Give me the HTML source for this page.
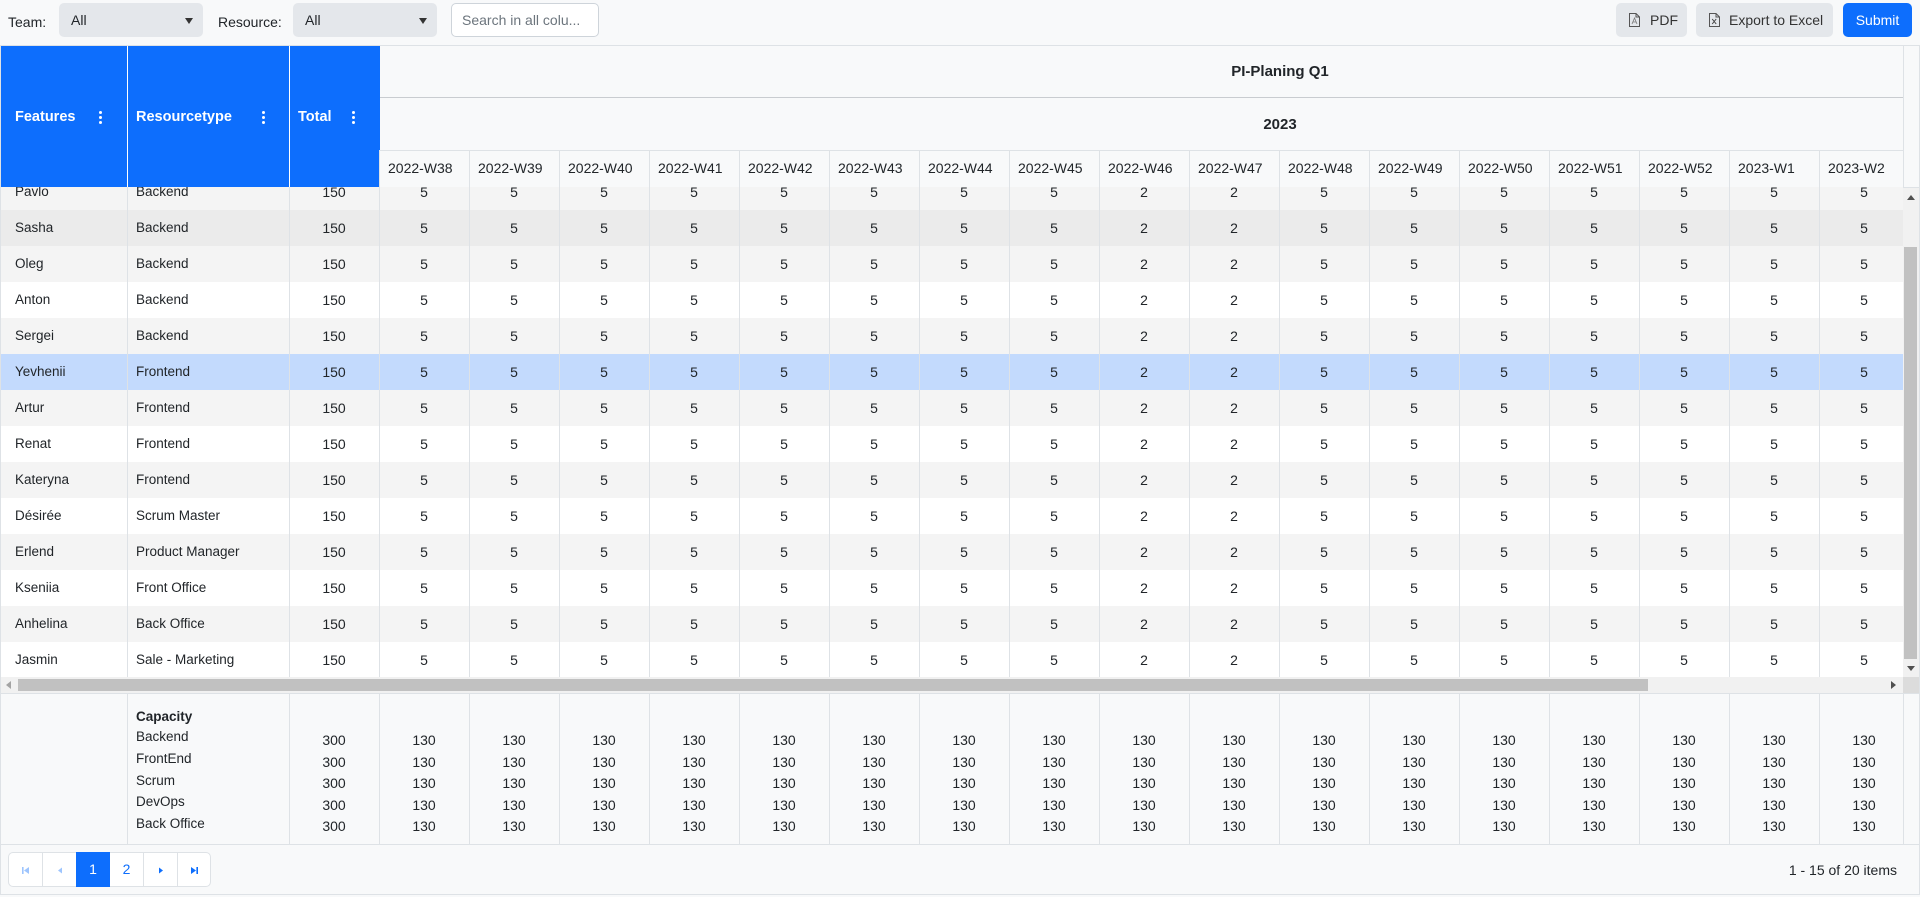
<!DOCTYPE html>
<html><head><meta charset="utf-8">
<style>
*{box-sizing:border-box}
body{margin:0;width:1920px;height:897px;overflow:hidden;background:#f8f9fa;font-family:"Liberation Sans",Arial,sans-serif;color:#212529;position:relative;font-size:14px}
.a{position:absolute}
.hl{position:absolute;height:1px;background:#dee2e6}
.vl{position:absolute;width:1px;background:#dee2e6}
.sel{position:absolute;top:3px;height:34px;width:144px;background:#e4e7eb;border-radius:5px;line-height:34px;padding-left:12px;font-size:14px}
.sel .tri{position:absolute;left:126px;top:15px;width:0;height:0;border-left:4px solid transparent;border-right:4px solid transparent;border-top:6px solid #333}
.btn{position:absolute;top:3px;height:34px;border-radius:5px;background:#e4e7eb;line-height:34px;font-size:14px;color:#333}
.kb{position:absolute;width:3px;top:111px}
.kb i{display:block;width:3px;height:3px;border-radius:50%;background:#fff;margin-bottom:2px}
.ht{position:absolute;top:107px;line-height:20px;color:#fff;font-weight:bold;font-size:14.5px}
.body{position:absolute;left:0;top:187px;width:1903px;height:490px;overflow:hidden}
.r{position:absolute;left:0;height:36px;width:1909px;display:flex;line-height:36px;font-size:14px;white-space:nowrap}
.c1{width:127px;padding-left:15px;flex:none;font-size:13.5px}
.c2{width:162px;padding-left:9px;flex:none;font-size:13.5px}
.c3,.w{width:90px;text-align:center;flex:none}
.wk{position:absolute;left:0;top:150px;height:37px;width:1903px;overflow:hidden;display:flex;padding-left:379px;line-height:37px;font-size:14px;white-space:nowrap}
.wk div{width:90px;flex:none;padding-left:9px}
.fr{position:absolute;left:0;width:1903px;height:20px;overflow:hidden;display:flex;line-height:20px;font-size:14px;white-space:nowrap}
.fr .sp{width:289px;flex:none}
.fl{position:absolute;left:136px;line-height:20px;font-size:13.5px}
.pg{position:absolute;top:852px;height:35px;border-top:1px solid #dee2e6;border-bottom:1px solid #dee2e6;background:#fff;text-align:center;line-height:33px;font-size:14px;color:#0d6efd}
</style></head><body>

<!-- toolbar -->
<div class="a" style="left:8px;top:12px;line-height:20px">Team:</div>
<div class="sel" style="left:59px">All<span class="tri"></span></div>
<div class="a" style="left:218px;top:12px;line-height:20px">Resource:</div>
<div class="sel" style="left:293px">All<span class="tri"></span></div>
<div class="a" style="left:451px;top:3px;width:148px;height:34px;background:#fff;border:1px solid #ced4da;border-radius:5px;line-height:32px;padding-left:10px;color:#6c757d;font-size:14px;white-space:nowrap">Search in all colu...</div>

<div class="btn" style="left:1616px;width:71px">
<svg class="a" style="left:13px;top:10px" width="11" height="14" viewBox="0 0 11 14"><path d="M0.5 0.5H7L10.5 4V13.5H0.5Z" fill="none" stroke="#555"/><path d="M7 0.5V4H10.5" fill="none" stroke="#555"/><path d="M3 11L5.5 5L8 11M4 9H7" fill="none" stroke="#777" stroke-width="0.8"/></svg>
<span class="a" style="left:34px">PDF</span></div>
<div class="btn" style="left:1696px;width:137px">
<svg class="a" style="left:13px;top:10px" width="11" height="14" viewBox="0 0 11 14"><path d="M0.5 0.5H7L10.5 4V13.5H0.5Z" fill="none" stroke="#555"/><path d="M7 0.5V4H10.5" fill="none" stroke="#555"/><path d="M3.2 6L7.2 11M7.2 6L3.2 11" stroke="#444" stroke-width="1"/></svg>
<span class="a" style="left:33px;white-space:nowrap">Export to Excel</span></div>
<div class="btn" style="left:1843px;width:69px;background:#0d6efd;color:#fff;text-align:center">Submit</div>

<div class="hl" style="left:0;top:45px;width:1920px"></div>

<!-- header -->
<div class="a" style="left:0;top:46px;width:380px;height:141px;background:#0d6efd"></div>
<div class="a" style="left:127px;top:46px;width:1px;height:141px;background:#fff"></div>
<div class="a" style="left:289px;top:46px;width:1px;height:141px;background:#fff"></div>
<div class="ht" style="left:15px">Features</div>
<div class="kb" style="left:99px"><i></i><i></i><i></i></div>
<div class="ht" style="left:136px">Resourcetype</div>
<div class="kb" style="left:262px"><i></i><i></i><i></i></div>
<div class="ht" style="left:298px">Total</div>
<div class="kb" style="left:352px"><i></i><i></i><i></i></div>

<div class="a" style="left:1180px;top:62px;width:200px;text-align:center;font-weight:bold;font-size:15px;line-height:20px">PI-Planing Q1</div>
<div class="a" style="left:1180px;top:115px;width:200px;text-align:center;font-weight:bold;font-size:15px;line-height:20px">2023</div>
<div class="a" style="left:380px;top:97px;width:1523px;height:1px;background:#c9ccd0"></div>
<div class="hl" style="left:380px;top:150px;width:1523px"></div>
<div class="wk"><div>2022-W38</div><div>2022-W39</div><div>2022-W40</div><div>2022-W41</div><div>2022-W42</div><div>2022-W43</div><div>2022-W44</div><div>2022-W45</div><div>2022-W46</div><div>2022-W47</div><div>2022-W48</div><div>2022-W49</div><div>2022-W50</div><div>2022-W51</div><div>2022-W52</div><div>2023-W1</div><div>2023-W2</div></div>
<div class="hl" style="left:0;top:187px;width:1920px"></div>

<!-- body -->
<div class="body">
<div class="r" style="top:-13px;background:#f4f4f4"><div class="c1">Pavlo</div><div class="c2">Backend</div><div class="c3">150</div><div class="w">5</div><div class="w">5</div><div class="w">5</div><div class="w">5</div><div class="w">5</div><div class="w">5</div><div class="w">5</div><div class="w">5</div><div class="w">2</div><div class="w">2</div><div class="w">5</div><div class="w">5</div><div class="w">5</div><div class="w">5</div><div class="w">5</div><div class="w">5</div><div class="w">5</div></div>
<div class="r" style="top:23px;background:#ebebeb"><div class="c1">Sasha</div><div class="c2">Backend</div><div class="c3">150</div><div class="w">5</div><div class="w">5</div><div class="w">5</div><div class="w">5</div><div class="w">5</div><div class="w">5</div><div class="w">5</div><div class="w">5</div><div class="w">2</div><div class="w">2</div><div class="w">5</div><div class="w">5</div><div class="w">5</div><div class="w">5</div><div class="w">5</div><div class="w">5</div><div class="w">5</div></div>
<div class="r" style="top:59px;background:#f4f4f4"><div class="c1">Oleg</div><div class="c2">Backend</div><div class="c3">150</div><div class="w">5</div><div class="w">5</div><div class="w">5</div><div class="w">5</div><div class="w">5</div><div class="w">5</div><div class="w">5</div><div class="w">5</div><div class="w">2</div><div class="w">2</div><div class="w">5</div><div class="w">5</div><div class="w">5</div><div class="w">5</div><div class="w">5</div><div class="w">5</div><div class="w">5</div></div>
<div class="r" style="top:95px;background:#ffffff"><div class="c1">Anton</div><div class="c2">Backend</div><div class="c3">150</div><div class="w">5</div><div class="w">5</div><div class="w">5</div><div class="w">5</div><div class="w">5</div><div class="w">5</div><div class="w">5</div><div class="w">5</div><div class="w">2</div><div class="w">2</div><div class="w">5</div><div class="w">5</div><div class="w">5</div><div class="w">5</div><div class="w">5</div><div class="w">5</div><div class="w">5</div></div>
<div class="r" style="top:131px;background:#f4f4f4"><div class="c1">Sergei</div><div class="c2">Backend</div><div class="c3">150</div><div class="w">5</div><div class="w">5</div><div class="w">5</div><div class="w">5</div><div class="w">5</div><div class="w">5</div><div class="w">5</div><div class="w">5</div><div class="w">2</div><div class="w">2</div><div class="w">5</div><div class="w">5</div><div class="w">5</div><div class="w">5</div><div class="w">5</div><div class="w">5</div><div class="w">5</div></div>
<div class="r" style="top:167px;background:#c3dafd"><div class="c1">Yevhenii</div><div class="c2">Frontend</div><div class="c3">150</div><div class="w">5</div><div class="w">5</div><div class="w">5</div><div class="w">5</div><div class="w">5</div><div class="w">5</div><div class="w">5</div><div class="w">5</div><div class="w">2</div><div class="w">2</div><div class="w">5</div><div class="w">5</div><div class="w">5</div><div class="w">5</div><div class="w">5</div><div class="w">5</div><div class="w">5</div></div>
<div class="r" style="top:203px;background:#f4f4f4"><div class="c1">Artur</div><div class="c2">Frontend</div><div class="c3">150</div><div class="w">5</div><div class="w">5</div><div class="w">5</div><div class="w">5</div><div class="w">5</div><div class="w">5</div><div class="w">5</div><div class="w">5</div><div class="w">2</div><div class="w">2</div><div class="w">5</div><div class="w">5</div><div class="w">5</div><div class="w">5</div><div class="w">5</div><div class="w">5</div><div class="w">5</div></div>
<div class="r" style="top:239px;background:#ffffff"><div class="c1">Renat</div><div class="c2">Frontend</div><div class="c3">150</div><div class="w">5</div><div class="w">5</div><div class="w">5</div><div class="w">5</div><div class="w">5</div><div class="w">5</div><div class="w">5</div><div class="w">5</div><div class="w">2</div><div class="w">2</div><div class="w">5</div><div class="w">5</div><div class="w">5</div><div class="w">5</div><div class="w">5</div><div class="w">5</div><div class="w">5</div></div>
<div class="r" style="top:275px;background:#f4f4f4"><div class="c1">Kateryna</div><div class="c2">Frontend</div><div class="c3">150</div><div class="w">5</div><div class="w">5</div><div class="w">5</div><div class="w">5</div><div class="w">5</div><div class="w">5</div><div class="w">5</div><div class="w">5</div><div class="w">2</div><div class="w">2</div><div class="w">5</div><div class="w">5</div><div class="w">5</div><div class="w">5</div><div class="w">5</div><div class="w">5</div><div class="w">5</div></div>
<div class="r" style="top:311px;background:#ffffff"><div class="c1">Désirée</div><div class="c2">Scrum Master</div><div class="c3">150</div><div class="w">5</div><div class="w">5</div><div class="w">5</div><div class="w">5</div><div class="w">5</div><div class="w">5</div><div class="w">5</div><div class="w">5</div><div class="w">2</div><div class="w">2</div><div class="w">5</div><div class="w">5</div><div class="w">5</div><div class="w">5</div><div class="w">5</div><div class="w">5</div><div class="w">5</div></div>
<div class="r" style="top:347px;background:#f4f4f4"><div class="c1">Erlend</div><div class="c2">Product Manager</div><div class="c3">150</div><div class="w">5</div><div class="w">5</div><div class="w">5</div><div class="w">5</div><div class="w">5</div><div class="w">5</div><div class="w">5</div><div class="w">5</div><div class="w">2</div><div class="w">2</div><div class="w">5</div><div class="w">5</div><div class="w">5</div><div class="w">5</div><div class="w">5</div><div class="w">5</div><div class="w">5</div></div>
<div class="r" style="top:383px;background:#ffffff"><div class="c1">Kseniia</div><div class="c2">Front Office</div><div class="c3">150</div><div class="w">5</div><div class="w">5</div><div class="w">5</div><div class="w">5</div><div class="w">5</div><div class="w">5</div><div class="w">5</div><div class="w">5</div><div class="w">2</div><div class="w">2</div><div class="w">5</div><div class="w">5</div><div class="w">5</div><div class="w">5</div><div class="w">5</div><div class="w">5</div><div class="w">5</div></div>
<div class="r" style="top:419px;background:#f4f4f4"><div class="c1">Anhelina</div><div class="c2">Back Office</div><div class="c3">150</div><div class="w">5</div><div class="w">5</div><div class="w">5</div><div class="w">5</div><div class="w">5</div><div class="w">5</div><div class="w">5</div><div class="w">5</div><div class="w">2</div><div class="w">2</div><div class="w">5</div><div class="w">5</div><div class="w">5</div><div class="w">5</div><div class="w">5</div><div class="w">5</div><div class="w">5</div></div>
<div class="r" style="top:455px;background:#ffffff"><div class="c1">Jasmin</div><div class="c2">Sale - Marketing</div><div class="c3">150</div><div class="w">5</div><div class="w">5</div><div class="w">5</div><div class="w">5</div><div class="w">5</div><div class="w">5</div><div class="w">5</div><div class="w">5</div><div class="w">2</div><div class="w">2</div><div class="w">5</div><div class="w">5</div><div class="w">5</div><div class="w">5</div><div class="w">5</div><div class="w">5</div><div class="w">5</div></div>

<!-- body vertical lines -->
<div class="vl" style="left:127px;top:0;height:490px"></div>
<div class="vl" style="left:289px;top:0;height:490px"></div>
<div class="vl" style="left:379px;top:0;height:490px"></div>
<div class="vl" style="left:469px;top:0;height:490px"></div>
<div class="vl" style="left:559px;top:0;height:490px"></div>
<div class="vl" style="left:649px;top:0;height:490px"></div>
<div class="vl" style="left:739px;top:0;height:490px"></div>
<div class="vl" style="left:829px;top:0;height:490px"></div>
<div class="vl" style="left:919px;top:0;height:490px"></div>
<div class="vl" style="left:1009px;top:0;height:490px"></div>
<div class="vl" style="left:1099px;top:0;height:490px"></div>
<div class="vl" style="left:1189px;top:0;height:490px"></div>
<div class="vl" style="left:1279px;top:0;height:490px"></div>
<div class="vl" style="left:1369px;top:0;height:490px"></div>
<div class="vl" style="left:1459px;top:0;height:490px"></div>
<div class="vl" style="left:1549px;top:0;height:490px"></div>
<div class="vl" style="left:1639px;top:0;height:490px"></div>
<div class="vl" style="left:1729px;top:0;height:490px"></div>
<div class="vl" style="left:1819px;top:0;height:490px"></div>
</div>

<!-- header week-row vertical lines -->
<div class="vl" style="left:379px;top:150px;height:37px"></div>
<div class="vl" style="left:469px;top:150px;height:37px"></div>
<div class="vl" style="left:559px;top:150px;height:37px"></div>
<div class="vl" style="left:649px;top:150px;height:37px"></div>
<div class="vl" style="left:739px;top:150px;height:37px"></div>
<div class="vl" style="left:829px;top:150px;height:37px"></div>
<div class="vl" style="left:919px;top:150px;height:37px"></div>
<div class="vl" style="left:1009px;top:150px;height:37px"></div>
<div class="vl" style="left:1099px;top:150px;height:37px"></div>
<div class="vl" style="left:1189px;top:150px;height:37px"></div>
<div class="vl" style="left:1279px;top:150px;height:37px"></div>
<div class="vl" style="left:1369px;top:150px;height:37px"></div>
<div class="vl" style="left:1459px;top:150px;height:37px"></div>
<div class="vl" style="left:1549px;top:150px;height:37px"></div>
<div class="vl" style="left:1639px;top:150px;height:37px"></div>
<div class="vl" style="left:1729px;top:150px;height:37px"></div>
<div class="vl" style="left:1819px;top:150px;height:37px"></div>
<div class="vl" style="left:1903px;top:46px;height:141px"></div>

<!-- vertical scrollbar -->
<div class="a" style="left:1903px;top:188px;width:17px;height:489px;background:#f1f1f1"></div>
<div class="a" style="left:1904px;top:247px;width:13px;height:412px;background:#c1c1c1"></div>
<div class="a" style="left:1907px;top:195px;width:0;height:0;border-left:4px solid transparent;border-right:4px solid transparent;border-bottom:5px solid #505050"></div>
<div class="a" style="left:1907px;top:666px;width:0;height:0;border-left:4px solid transparent;border-right:4px solid transparent;border-top:5px solid #505050"></div>

<!-- horizontal scrollbar -->
<div class="a" style="left:0;top:677px;width:1903px;height:16px;background:#f1f1f1"></div>
<div class="a" style="left:18px;top:679px;width:1630px;height:12px;background:#c1c1c1"></div>
<div class="a" style="left:6px;top:681px;width:0;height:0;border-top:4px solid transparent;border-bottom:4px solid transparent;border-right:5px solid #a3a3a3"></div>
<div class="a" style="left:1891px;top:681px;width:0;height:0;border-top:4px solid transparent;border-bottom:4px solid transparent;border-left:5px solid #505050"></div>
<div class="a" style="left:1903px;top:677px;width:17px;height:16px;background:#dcdcdc"></div>
<div class="hl" style="left:0;top:693px;width:1920px"></div>

<!-- footer -->
<div class="fl" style="top:707px;font-weight:bold">Capacity</div>
<div class="fl" style="top:727px">Backend</div>
<div class="fl" style="top:749px">FrontEnd</div>
<div class="fl" style="top:771px">Scrum</div>
<div class="fl" style="top:792px">DevOps</div>
<div class="fl" style="top:814px">Back Office</div>

<div class="fr" style="top:730px"><div class="sp"></div><div class="c3">300</div><div class="w">130</div><div class="w">130</div><div class="w">130</div><div class="w">130</div><div class="w">130</div><div class="w">130</div><div class="w">130</div><div class="w">130</div><div class="w">130</div><div class="w">130</div><div class="w">130</div><div class="w">130</div><div class="w">130</div><div class="w">130</div><div class="w">130</div><div class="w">130</div><div class="w">130</div></div>
<div class="fr" style="top:752px"><div class="sp"></div><div class="c3">300</div><div class="w">130</div><div class="w">130</div><div class="w">130</div><div class="w">130</div><div class="w">130</div><div class="w">130</div><div class="w">130</div><div class="w">130</div><div class="w">130</div><div class="w">130</div><div class="w">130</div><div class="w">130</div><div class="w">130</div><div class="w">130</div><div class="w">130</div><div class="w">130</div><div class="w">130</div></div>
<div class="fr" style="top:773px"><div class="sp"></div><div class="c3">300</div><div class="w">130</div><div class="w">130</div><div class="w">130</div><div class="w">130</div><div class="w">130</div><div class="w">130</div><div class="w">130</div><div class="w">130</div><div class="w">130</div><div class="w">130</div><div class="w">130</div><div class="w">130</div><div class="w">130</div><div class="w">130</div><div class="w">130</div><div class="w">130</div><div class="w">130</div></div>
<div class="fr" style="top:795px"><div class="sp"></div><div class="c3">300</div><div class="w">130</div><div class="w">130</div><div class="w">130</div><div class="w">130</div><div class="w">130</div><div class="w">130</div><div class="w">130</div><div class="w">130</div><div class="w">130</div><div class="w">130</div><div class="w">130</div><div class="w">130</div><div class="w">130</div><div class="w">130</div><div class="w">130</div><div class="w">130</div><div class="w">130</div></div>
<div class="fr" style="top:816px"><div class="sp"></div><div class="c3">300</div><div class="w">130</div><div class="w">130</div><div class="w">130</div><div class="w">130</div><div class="w">130</div><div class="w">130</div><div class="w">130</div><div class="w">130</div><div class="w">130</div><div class="w">130</div><div class="w">130</div><div class="w">130</div><div class="w">130</div><div class="w">130</div><div class="w">130</div><div class="w">130</div><div class="w">130</div></div>

<div class="vl" style="left:127px;top:694px;height:150px"></div>
<div class="vl" style="left:289px;top:694px;height:150px"></div>
<div class="vl" style="left:379px;top:694px;height:150px"></div>
<div class="vl" style="left:469px;top:694px;height:150px"></div>
<div class="vl" style="left:559px;top:694px;height:150px"></div>
<div class="vl" style="left:649px;top:694px;height:150px"></div>
<div class="vl" style="left:739px;top:694px;height:150px"></div>
<div class="vl" style="left:829px;top:694px;height:150px"></div>
<div class="vl" style="left:919px;top:694px;height:150px"></div>
<div class="vl" style="left:1009px;top:694px;height:150px"></div>
<div class="vl" style="left:1099px;top:694px;height:150px"></div>
<div class="vl" style="left:1189px;top:694px;height:150px"></div>
<div class="vl" style="left:1279px;top:694px;height:150px"></div>
<div class="vl" style="left:1369px;top:694px;height:150px"></div>
<div class="vl" style="left:1459px;top:694px;height:150px"></div>
<div class="vl" style="left:1549px;top:694px;height:150px"></div>
<div class="vl" style="left:1639px;top:694px;height:150px"></div>
<div class="vl" style="left:1729px;top:694px;height:150px"></div>
<div class="vl" style="left:1819px;top:694px;height:150px"></div>
<div class="vl" style="left:1903px;top:694px;height:150px"></div>
<div class="hl" style="left:0;top:844px;width:1920px"></div>

<!-- pager -->
<div class="pg" style="left:8px;width:34px;border-left:1px solid #dee2e6;border-radius:5px 0 0 5px"><svg width="9" height="9" viewBox="0 0 9 9" style="vertical-align:middle"><rect x="1" y="1" width="1.6" height="7" fill="#9ec5fe"/><path d="M8 1V8L3 4.5Z" fill="#9ec5fe"/></svg></div>
<div class="pg" style="left:42px;width:34px;border-left:1px solid #dee2e6"><svg width="6" height="9" viewBox="0 0 6 9" style="vertical-align:middle"><path d="M5 1.5V7.5L1 4.5Z" fill="#9ec5fe"/></svg></div>
<div class="pg" style="left:76px;width:34px;background:#0d6efd;color:#fff;border-color:#0d6efd">1</div>
<div class="pg" style="left:110px;width:33px">2</div>
<div class="pg" style="left:143px;width:34px;border-left:1px solid #dee2e6"><svg width="6" height="9" viewBox="0 0 6 9" style="vertical-align:middle"><path d="M1 1.5V7.5L5 4.5Z" fill="#0d6efd"/></svg></div>
<div class="pg" style="left:177px;width:34px;border-left:1px solid #dee2e6;border-right:1px solid #dee2e6;border-radius:0 5px 5px 0"><svg width="9" height="9" viewBox="0 0 9 9" style="vertical-align:middle"><path d="M1 1V8L6 4.5Z" fill="#0d6efd"/><rect x="6.4" y="1" width="1.6" height="7" fill="#0d6efd"/></svg></div>

<div class="a" style="left:1697px;top:860px;width:200px;text-align:right;line-height:20px;font-size:14px">1 - 15 of 20 items</div>

<div class="hl" style="left:0;top:894px;width:1920px"></div>
<div class="a" style="left:0;top:45px;width:1px;height:850px;background:#dee2e6"></div>
<div class="a" style="left:1919px;top:45px;width:1px;height:850px;background:#dee2e6"></div>
</body></html>
